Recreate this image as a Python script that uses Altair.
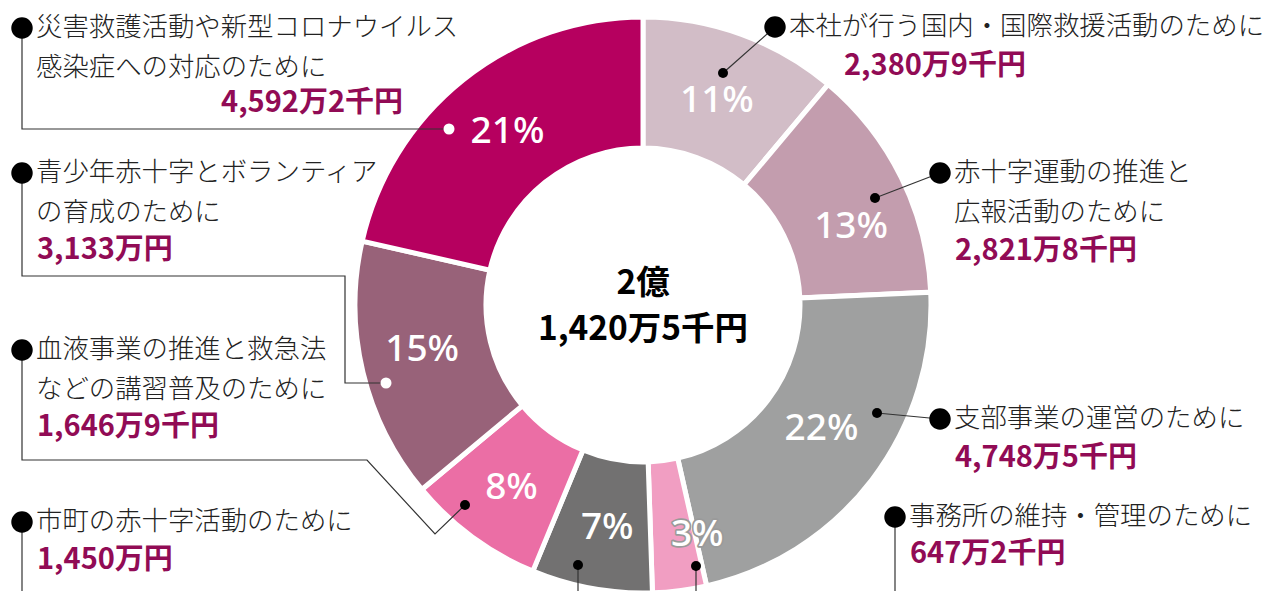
import altair as alt
import pandas as pd

# ---------------- data ----------------
categories = [
    "本社が行う国内・国際救援活動のために",
    "赤十字運動の推進と広報活動のために",
    "支部事業の運営のために",
    "事務所の維持・管理のために",
    "市町の赤十字活動のために",
    "血液事業の推進と救急法などの講習普及のために",
    "青少年赤十字とボランティアの育成のために",
    "災害救護活動や新型コロナウイルス感染症への対応のために",
]
values = [2380.9, 2821.8, 4748.5, 647.2, 1450.0, 1646.9, 3133.0, 4592.2]  # 万円
pct_labels = ["11%", "13%", "22%", "3%", "7%", "8%", "15%", "21%"]
amount_labels = ["2,380万9千円", "2,821万8千円", "4,748万5千円", "647万2千円",
                 "1,450万円", "1,646万9千円", "3,133万円", "4,592万2千円"]
desc_lines = [
    ["本社が行う国内・国際救援活動のために"],
    ["赤十字運動の推進と", "広報活動のために"],
    ["支部事業の運営のために"],
    ["事務所の維持・管理のために"],
    ["市町の赤十字活動のために"],
    ["血液事業の推進と救急法", "などの講習普及のために"],
    ["青少年赤十字とボランティア", "の育成のために"],
    ["災害救護活動や新型コロナウイルス", "感染症への対応のために"],
]
center_lines = ["2億", "1,420万5千円"]

# ---------------- styles / layout ----------------
colors = ["#d2bdc7", "#c39dae", "#9fa0a0", "#f19ec2", "#727171", "#eb6ea5", "#986279", "#b6005f"]
W, H = 1268, 591
CX, CY = 643, 305
R_OUT, R_IN = 288, 157
R_LABEL = 222
JP = "Noto Sans CJK JP"
AMOUNT_COLOR = "#910b55"

# small nudges (px) of the percentage labels away from the slice mid-angle
pct_nudge = [(-2, 5), (9, 20), (2, -11), (26, 10), (4, 5), (0, 4), (-5, -7), (3, 1)]

bullets = [(775, 27), (940, 173), (940, 419), (895, 517), (22, 522), (22, 350), (22, 173), (22, 28)]
amount_pos = [(844, 66, "left"), (955, 251, "left"), (955, 458, "left"), (910, 554, "left"),
              (37, 560, "left"), (37, 427, "left"), (37, 250, "left"), (403, 103, "right")]
leaders = [
    [[(723, 73), (775, 27)]],
    [[(875, 198), (940, 173)]],
    [[(877, 413), (940, 419)]],
    [[(696, 566), (696, 600)], [(895, 517), (895, 600)]],
    [[(578, 565), (578, 600)], [(22, 522), (22, 600)]],
    [[(465, 505), (435, 534), (367, 460), (22, 460), (22, 350)]],
    [[(386, 383), (345, 383), (345, 276), (22, 276), (22, 173)]],
    [[(449, 129), (22, 129), (22, 28)]],
]
dot_white = [False, False, False, False, False, False, True, True]
LINE_H = 40

# ---------------- tables ----------------
df = pd.DataFrame({"idx": range(len(categories)), "category": categories,
                   "value": values, "pct": pct_labels,
                   "outline": [p == "3%" for p in pct_labels]})

desc_rows, amt_rows, bullet_rows, dot_rows, line_rows = [], [], [], [], []
pid = 0
for i, cat in enumerate(categories):
    bx, by = bullets[i]
    bullet_rows.append({"x": bx, "y": by})
    for j, t in enumerate(desc_lines[i]):
        desc_rows.append({"x": bx + 14, "y": by + j * LINE_H, "t": t})
    ax, ay, al = amount_pos[i]
    amt_rows.append({"x": ax, "y": ay, "t": amount_labels[i], "align": al})
    for k, path in enumerate(leaders[i]):
        for n, (px, py) in enumerate(path):
            line_rows.append({"pid": pid, "n": n, "x": px, "y": py})
        pid += 1
    sx, sy = leaders[i][0][0]
    dot_rows.append({"x": sx, "y": sy, "white": dot_white[i]})

desc_df = pd.DataFrame(desc_rows)
amt_df = pd.DataFrame(amt_rows)
bullet_df = pd.DataFrame(bullet_rows)
dot_df = pd.DataFrame(dot_rows)
line_df = pd.DataFrame(line_rows)
center_df = pd.DataFrame({"t": center_lines, "y": [CY - 21, CY + 25], "x": [CX, CX]})

X = lambda: alt.X("x:Q", scale=None, axis=None)
Y = lambda: alt.Y("y:Q", scale=None, axis=None)

arc = alt.Chart(df).mark_arc(innerRadius=R_IN, outerRadius=R_OUT, stroke="white",
                             strokeWidth=5).encode(
    theta=alt.Theta("value:Q", stack=True),
    order=alt.Order("idx:Q"),
    color=alt.Color("category:N", scale=alt.Scale(domain=categories, range=colors), legend=None),
    x=alt.value(CX), y=alt.value(CY),
)


def pct_layer(i, ndx, ndy, **style):
    # keeps the full stack, shows only the label of slice i
    return alt.Chart(df).transform_calculate(
        lab=f"datum.idx == {i} ? datum.pct : ''"
    ).mark_text(radius=R_LABEL, font="Noto Sans", fontSize=37, fontWeight=500,
                dx=ndx, dy=ndy, **style).encode(
        theta=alt.Theta("value:Q", stack=True),
        order=alt.Order("idx:Q"),
        text="lab:N",
        x=alt.value(CX), y=alt.value(CY),
    )


pct_layers = []
for i, (ndx, ndy) in enumerate(pct_nudge):
    if bool(df["outline"][i]):
        pct_layers.append(pct_layer(i, ndx, ndy, fill="#9a9a9a", stroke="#9a9a9a",
                                    strokeWidth=3.5, strokeJoin="round"))
    pct_layers.append(pct_layer(i, ndx, ndy, fill="white"))

lines = alt.Chart(line_df).mark_line(color="#333333", strokeWidth=1.2).encode(
    x=X(), y=Y(), detail="pid:N", order="n:Q")

dots = alt.Chart(dot_df).mark_point(filled=True, opacity=1, shape="circle").encode(
    x=X(), y=Y(),
    color=alt.condition("datum.white", alt.value("white"), alt.value("black")),
    size=alt.condition("datum.white", alt.value(121), alt.value(100)),
)

bullets_layer = alt.Chart(bullet_df).mark_point(filled=True, opacity=1, shape="circle",
                                                color="black", size=460).encode(x=X(), y=Y())

desc = alt.Chart(desc_df).mark_text(align="left", baseline="middle", font=JP, fontSize=26.4,
                                    fontWeight=300, color="#222222").encode(
    x=X(), y=Y(), text="t:N")

amt_left = alt.Chart(amt_df).transform_filter("datum.align == 'left'").mark_text(
    align="left", baseline="middle", font=JP, fontSize=29, fontWeight="bold",
    color=AMOUNT_COLOR).encode(x=X(), y=Y(), text="t:N")
amt_right = alt.Chart(amt_df).transform_filter("datum.align == 'right'").mark_text(
    align="right", baseline="middle", font=JP, fontSize=29, fontWeight="bold",
    color=AMOUNT_COLOR).encode(x=X(), y=Y(), text="t:N")

center = alt.Chart(center_df).mark_text(align="center", baseline="middle", font=JP,
                                        fontSize=33.5, fontWeight="bold", color="black").encode(
    x=X(), y=Y(), text="t:N")

chart = alt.layer(arc, *pct_layers, lines, dots, bullets_layer, desc, amt_left, amt_right,
                  center).properties(
    width=W, height=H, autosize=alt.AutoSizeParams(type="none"), padding=0, background="white"
).configure_view(strokeWidth=0)

chart.save("out.html", embed_options={"renderer": "svg", "actions": False})
